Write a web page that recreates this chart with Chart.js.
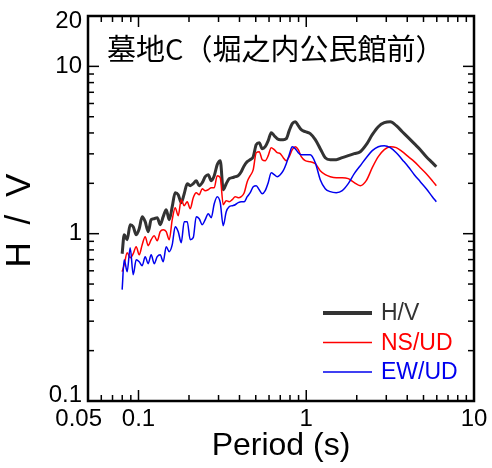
<!DOCTYPE html>
<html>
<head>
<meta charset="utf-8">
<script src="https://cdn.jsdelivr.net/npm/chart.js@4.4.1/dist/chart.umd.min.js"></script>
<style>
    html, body { margin: 0; padding: 0; background: #fff; }
</style>
</head>
<body>
<canvas id="graficoHV" width="492" height="468"></canvas>
<script>
// ---- DADOS ----
const periodos = [0.0799, 0.0822, 0.0856, 0.0892, 0.0930, 0.0969, 0.1010, 0.1052, 0.1096, 0.1142,
    0.1190, 0.1240, 0.1293, 0.1347, 0.1404, 0.1463, 0.1525, 0.1589, 0.1655, 0.1725,
    0.1798, 0.1873, 0.1952, 0.2034, 0.2120, 0.2209, 0.2301, 0.2398, 0.2499, 0.2604,
    0.2714, 0.2828, 0.2947, 0.3071, 0.3200, 0.3334, 0.3474, 0.3620, 0.3772, 0.3931,
    0.4096, 0.4268, 0.4448, 0.4635, 0.4830, 0.5032, 0.5244, 0.5464, 0.5694, 0.5933,
    0.6182, 0.6443, 0.6713, 0.6998, 0.7293, 0.7600, 0.7917, 0.8252, 0.8598, 0.8960,
    0.9337, 0.986, 1.056, 1.132, 1.212, 1.298, 1.390, 1.510, 1.639, 1.780,
    1.933, 2.099, 2.279, 2.475, 2.688, 2.919, 3.169, 3.441, 3.737, 4.057,
    4.406, 4.784, 5.195, 5.641, 5.961];

const hv = [0.759, 0.986, 0.921, 1.132, 1.101, 0.986, 1.071, 1.264, 1.180, 1.028,
    1.213, 1.229, 1.246, 1.132, 1.264, 1.391, 1.213, 1.450, 1.758, 1.711,
    1.532, 1.734, 1.990, 1.936, 1.990, 2.074, 1.936, 2.018, 2.191, 2.252,
    2.074, 2.222, 2.585, 2.731, 1.832, 1.990, 2.132, 2.161, 2.191, 2.222,
    2.347, 2.549, 2.694, 2.769, 2.885, 3.404, 3.499, 3.221, 3.311, 3.596,
    4.015, 3.852, 3.697, 3.646, 3.646, 3.697, 4.127, 4.544, 4.671, 4.421,
    4.184, 4.070, 3.960, 3.646, 3.221, 2.846, 2.769, 2.769, 2.846, 2.926,
    3.007, 3.091, 3.404, 3.906, 4.360, 4.607, 4.671, 4.421, 4.070, 3.748,
    3.451, 3.177, 2.885, 2.657, 2.514];

const nsud = [0.593, 0.653, 0.770, 0.719, 0.759, 0.836, 0.749, 0.860, 0.960, 0.848,
    0.921, 0.973, 0.908, 1.028, 1.057, 1.028, 0.921, 1.213, 1.430, 1.281,
    1.597, 1.470, 1.553, 1.411, 1.641, 1.758, 1.711, 1.858, 1.807, 1.832,
    1.883, 1.883, 2.222, 2.161, 1.490, 1.575, 1.553, 1.597, 1.664, 1.641,
    1.664, 1.758, 2.046, 2.222, 2.413, 3.049, 3.091, 2.769, 2.731, 2.926,
    3.266, 3.177, 3.049, 3.007, 2.846, 2.731, 2.885, 3.177, 3.311, 3.177,
    2.885, 2.731, 2.694, 2.621, 2.380, 2.252, 2.191, 2.161, 2.161, 2.132,
    2.018, 1.936, 2.074, 2.480, 2.885, 3.177, 3.311, 3.266, 3.091, 2.885,
    2.694, 2.480, 2.284, 2.074, 1.936];

const ewud = [0.463, 0.699, 0.593, 0.825, 0.569, 0.699, 0.680, 0.644, 0.729, 0.662,
    0.749, 0.662, 0.729, 0.749, 0.680, 0.836, 0.781, 0.860, 1.101, 1.028,
    0.884, 1.180, 1.180, 0.921, 0.946, 1.264, 1.229, 1.132, 1.213, 1.317,
    1.246, 1.511, 1.664, 1.532, 1.116, 1.354, 1.450, 1.470, 1.490, 1.532,
    1.553, 1.553, 1.664, 1.758, 1.909, 1.936, 1.832, 1.734, 1.807, 2.018,
    2.315, 2.252, 2.191, 2.252, 2.380, 2.621, 2.966, 3.311, 3.221, 3.049,
    2.966, 2.966, 2.966, 2.657, 2.103, 1.858, 1.783, 1.758, 1.807, 1.990,
    2.284, 2.549, 2.846, 3.134, 3.311, 3.357, 3.266, 3.049, 2.769, 2.514,
    2.252, 2.046, 1.858, 1.664, 1.553];

const nomesSeries = ["H/V", "NS/UD", "EW/UD"];
const titulo = "墓地C（堀之内公民館前）";
const tituloX = "Period (s)";
const tituloY = "H / V";

const xTicks = [0.05, 0.1, 1, 10];
const xTickLabels = ["0.05", "0.1", "1", "10"];
const xMenores = [0.06, 0.07, 0.08, 0.09, 0.2, 0.3, 0.4, 0.5, 0.6, 0.7, 0.8, 0.9, 2, 3, 4, 5, 6, 7, 8, 9];
const yTicks = [0.1, 1, 10, 20];
const yTickLabels = ["0.1", "1", "10", "20"];
const yMenores = [0.2, 0.3, 0.4, 0.5, 0.6, 0.7, 0.8, 0.9, 2, 3, 4, 5, 6, 7, 8, 9];

const cores = ["#333333", "#ff0000", "#0000ee"];
const espessuras = [3, 1.5, 1.5];

const FONTE = "'Liberation Sans', Arial, sans-serif";

// ---- PLUGIN: moldura, ticks internos, textos e legenda ----
const moldura = {
    id: "moldura",
    afterDraw(chart) {
        const { ctx, chartArea: a, scales: { x, y } } = chart;
        ctx.save();

        const risco = (px, py, dx, dy) => {
            ctx.beginPath();
            ctx.moveTo(px, py);
            ctx.lineTo(px + dx, py + dy);
            ctx.stroke();
        };

        ctx.strokeStyle = "#000";
        ctx.lineWidth = 1.5;
        xMenores.forEach(v => {
            const p = x.getPixelForValue(v);
            risco(p, a.bottom, 0, -6);
            risco(p, a.top, 0, 6);
        });
        xTicks.forEach(v => {
            const p = x.getPixelForValue(v);
            risco(p, a.bottom, 0, -11);
            risco(p, a.top, 0, 11);
        });
        yMenores.forEach(v => {
            const p = y.getPixelForValue(v);
            risco(a.left, p, 6, 0);
            risco(a.right, p, -6, 0);
        });
        yTicks.forEach(v => {
            const p = y.getPixelForValue(v);
            risco(a.left, p, 11, 0);
            risco(a.right, p, -11, 0);
        });

        ctx.lineWidth = 2.5;
        ctx.strokeRect(a.left, a.top, a.right - a.left, a.bottom - a.top);

        // rótulos dos eixos
        ctx.fillStyle = "#000";
        ctx.font = "24px " + FONTE;
        ctx.textBaseline = "middle";
        xTicks.forEach((v, i) => {
            const p = x.getPixelForValue(v);
            if (v === x.min) {
                ctx.textAlign = "right";
                ctx.fillText(xTickLabels[i], p + 14, a.bottom + 18);
            } else {
                ctx.textAlign = "center";
                ctx.fillText(xTickLabels[i], p, a.bottom + 18);
            }
        });
        ctx.textAlign = "right";
        yTicks.forEach((v, i) => {
            const p = Math.min(Math.max(y.getPixelForValue(v), a.top + 5), a.bottom - 6);
            ctx.fillText(yTickLabels[i], a.left - 6, p);
        });

        ctx.textAlign = "center";
        ctx.font = "32px " + FONTE;
        ctx.fillText(tituloX, (a.left + a.right) / 2, a.bottom + 45);

        ctx.save();
        ctx.translate(20, (a.top + a.bottom) / 2 + 12);
        ctx.rotate(-Math.PI / 2);
        ctx.font = "35px " + FONTE;
        ctx.letterSpacing = "4px";
        ctx.fillText(tituloY, 2, 0);
        ctx.restore();

        // título dentro do gráfico
        ctx.textAlign = "left";
        ctx.textBaseline = "alphabetic";
        ctx.font = "29px 'Noto Sans CJK JP', sans-serif";
        ctx.fillText(titulo, a.left + 19, a.top + 44);

        // legenda
        ctx.font = "23px " + FONTE;
        ctx.textBaseline = "middle";
        nomesSeries.forEach((nome, i) => {
            const ly = a.bottom - 88 + i * 29.5;
            ctx.strokeStyle = cores[i];
            ctx.lineWidth = i === 0 ? 4 : 1.5;
            risco(a.left + 235, ly, 49, 0);
            ctx.fillStyle = cores[i];
            ctx.fillText(nome, a.left + 293, ly + 1);
        });

        ctx.restore();
    }
};

// ---- GRÁFICO ----
const pontos = serie => periodos.map((p, i) => ({ x: p, y: serie[i] }));

const ctx = document.getElementById("graficoHV").getContext("2d");
const grafico = new Chart(ctx, {
    type: "line",
    data: {
        datasets: [hv, nsud, ewud].map((serie, i) => ({
            label: nomesSeries[i],
            data: pontos(serie),
            borderColor: cores[i],
            borderWidth: espessuras[i],
            pointRadius: 0,
            fill: false,
            tension: 0,
            cubicInterpolationMode: "monotone",
            order: 3 - i
        }))
    },
    options: {
        responsive: false,
        devicePixelRatio: 1,
        animation: false,
        layout: { padding: { left: 88, top: 16, right: 18, bottom: 67 } },
        scales: {
            x: { type: "logarithmic", min: 0.05, max: 10, display: false },
            y: { type: "logarithmic", min: 0.1, max: 20, display: false }
        },
        plugins: {
            legend: { display: false },
            tooltip: { enabled: false }
        }
    },
    plugins: [moldura]
});
</script>
</body>
</html>
